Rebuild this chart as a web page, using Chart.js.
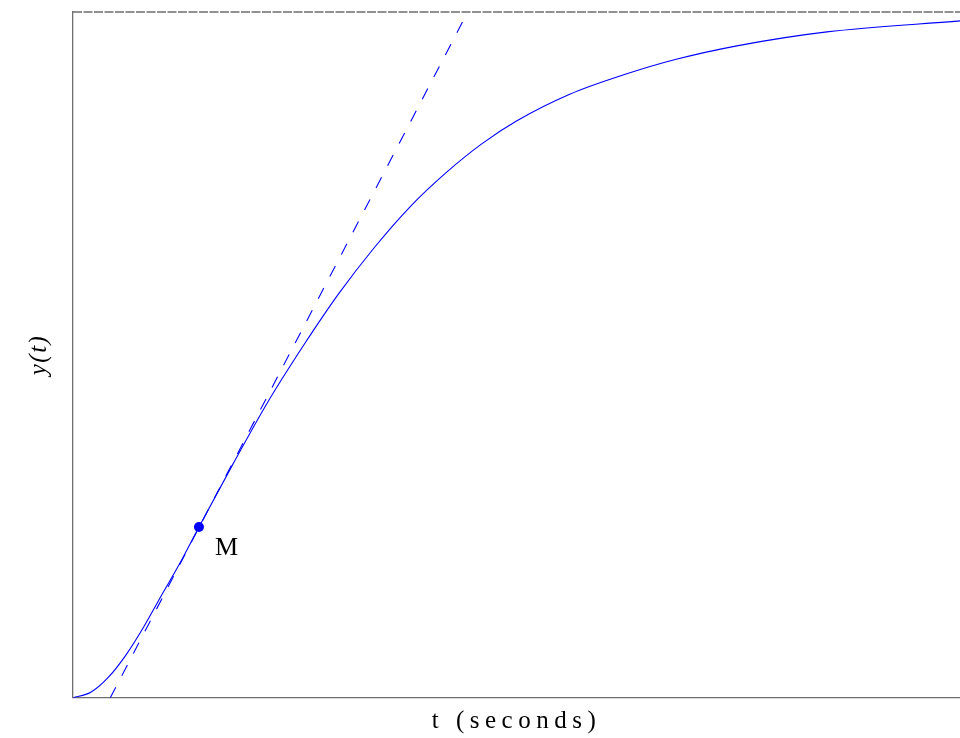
<!DOCTYPE html>
<html>
<head>
<meta charset="utf-8">
<script src="https://cdn.jsdelivr.net/npm/chart.js@4/dist/chart.umd.min.js"></script>
<style>
  html, body { margin: 0; padding: 0; background: #fff; overflow: hidden; }
  #wrap { width: 960px; height: 738px; }
</style>
</head>
<body>
<div id="wrap"><canvas id="c"></canvas></div>
<script>
// Step response y(t) (t in seconds, y normalised to final value)
const timeValues = [0, 0.2, 0.4, 0.6, 0.8, 1.0, 1.2, 1.42, 1.8, 2.2, 2.6, 3.0, 3.4, 3.8, 4.2, 4.6, 5.0, 5.6, 6.2, 6.8, 7.5, 8.5, 10.0];
const responseValues = [0, 0.008, 0.030, 0.063, 0.104, 0.150, 0.195, 0.249, 0.340, 0.432, 0.514, 0.590, 0.657, 0.716, 0.765, 0.807, 0.841, 0.880, 0.908, 0.931, 0.951, 0.971, 0.987];
// Tangent at inflection point M
const tangentT = [0.42, 4.45];
const tangentY = [0, 1];
// Inflection point M
const pointM = { t: 1.42, y: 0.249, label: 'M' };
// Final value line
const finalValueT = [0, 10];
const finalValueY = [1, 1];
const xTitle = 't (seconds)';
const yTitle = 'y(t)';

const toXY = (xs, ys) => xs.map((x, i) => ({ x: x, y: ys[i] }));

const textPlugin = {
  id: 'textStyling',
  beforeDraw(chart) { chart.ctx.letterSpacing = '5.5px'; },
  beforeDatasetsDraw(chart) { chart.ctx.letterSpacing = '0px'; },
  afterDatasetsDraw(chart) {
    const { ctx, scales } = chart;
    const px = scales.x.getPixelForValue(pointM.t);
    const py = scales.y.getPixelForValue(pointM.y);
    ctx.save();
    ctx.letterSpacing = '0px';
    ctx.fillStyle = '#000';
    ctx.font = '26px "Liberation Serif", "DejaVu Serif", serif';
    ctx.textBaseline = 'middle';
    ctx.textAlign = 'left';
    ctx.fillText(pointM.label, px + 16, py + 21);
    ctx.restore();
    ctx.letterSpacing = '1.5px';
  },
  afterDraw(chart) { chart.ctx.letterSpacing = '0px'; }
};

new Chart(document.getElementById('c'), {
  type: 'line',
  data: {
    datasets: [
      {
        data: toXY(finalValueT, finalValueY),
        borderColor: '#6e6e6e',
        borderWidth: 1.3,
        borderDash: [9, 1.5],
        pointRadius: 0,
        clip: false
      },
      {
        data: toXY(timeValues, responseValues),
        borderColor: '#0000ff',
        borderWidth: 1.1,
        pointRadius: 0,
        cubicInterpolationMode: 'monotone'
      },
      {
        data: toXY(tangentT, tangentY),
        borderColor: '#0000ff',
        borderWidth: 1.1,
        borderDash: [12, 13],
        pointRadius: 0
      },
      {
        data: [{ x: pointM.t, y: pointM.y }],
        borderColor: '#0000ff',
        backgroundColor: '#0000ff',
        pointRadius: 5,
        pointBorderWidth: 0,
        showLine: false
      }
    ]
  },
  options: {
    responsive: true,
    maintainAspectRatio: false,
    animation: false,
    events: [],
    layout: { autoPadding: false, padding: { left: 8.8, right: 0, top: 12, bottom: 0 } },
    plugins: { legend: { display: false }, tooltip: { enabled: false } },
    scales: {
      x: {
        type: 'linear', min: 0, max: 10,
        grid: { display: false, drawTicks: false },
        border: { display: true, color: '#6e6e6e', width: 1.3 },
        ticks: { display: false },
        title: {
          display: true, text: xTitle, color: '#000',
          font: { family: '"Liberation Serif", "DejaVu Serif", serif', size: 25 },
          padding: { top: 8.6, bottom: 1.6 }
        }
      },
      y: {
        type: 'linear', min: 0, max: 1,
        grid: { display: false, drawTicks: false, z: 1 },
        border: { display: true, color: '#6e6e6e', width: 1.3, z: 1 },
        ticks: { display: false, z: 1 },
        title: {
          display: true, text: yTitle, color: '#000',
          font: { family: '"Liberation Serif", "DejaVu Serif", serif', size: 25, style: 'italic' },
          padding: { top: 15.6, bottom: 18.6 }
        }
      }
    }
  },
  plugins: [textPlugin]
});
</script>
</body>
</html>
